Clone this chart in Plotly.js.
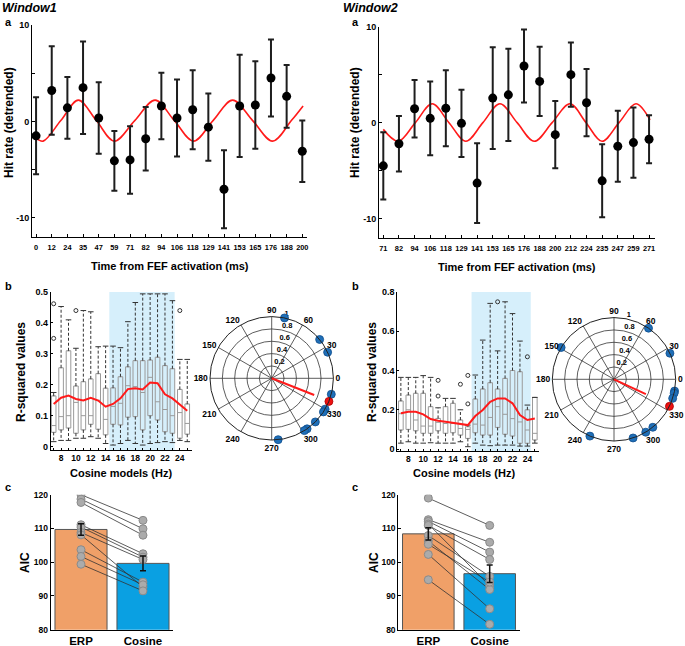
<!DOCTYPE html>
<html><head><meta charset="utf-8">
<script src="https://cdn.plot.ly/plotly-3.0.1.min.js"></script>
<style>body{margin:0;background:#fff}#chart{width:685px;height:646px}</style>
</head><body><div id="chart"></div>
<script>
// ---------- Panel a data ----------
const timeLabels1 = ['0','12','24','35','47','59','71','82','94','106','118','129','141','153','165','176','188','200'];
const hitMean1 = [-1.5,3.2,1.4,3.5,0.35,-4.1,-4.0,-1.8,1.6,0.35,1.2,-0.6,-7.05,1.6,1.7,4.5,2.6,-3.1];
const hitErr1  = [4.0,4.6,3.2,4.8,3.7,3.1,3.5,3.3,3.45,4.0,4.1,3.5,4.05,5.3,4.55,4.0,3.25,3.2];
const fitX1 = [0,0.45,1.58,2.7,3.85,5.0,6.3,7.6,8.83,10.05,11.3,12.55,13.83,15.1,16.3,17.05];
const fitY1 = [-1.75,-2.05,0.08,2.2,0.08,-2.05,0.08,2.2,0.08,-2.05,0.08,2.2,0.08,-2.05,0.08,1.6];

const timeLabels2 = ['71','82','94','106','118','129','141','153','165','176','188','200','212','224','235','247','259','271'];
const hitMean2 = [-4.5,-2.2,1.45,0.45,1.5,-0.07,-6.3,2.56,2.9,5.9,4.3,-1.25,5.0,2.08,-6.06,-2.46,-2.08,-1.73];
const hitErr2  = [3.5,2.9,3.0,3.85,3.95,3.5,4.15,5.3,4.8,3.8,3.6,3.5,3.35,3.5,3.8,3.7,3.65,2.5];
const fitX2 = [0,0.96,2.05,3.13,4.2,5.28,6.37,7.46,8.56,9.66,10.8,11.94,12.97,13.99,15.08,16.16,17.06];
const fitY2 = [-0.7,-1.94,0,1.97,0,-1.94,0,1.97,0,-1.94,0,1.97,0,-1.94,0,1.97,0.3];

// ---------- Panel b data ----------
const hz = [7,8,9,10,11,12,13,14,15,16,17,18,19,20,21,22,23,24,25];
const hzLabels = ['','8','','10','','12','','14','','16','','18','','20','','22','','24',''];
const q1W1  = [0.046,0.054,0.06,0.043,0.054,0.072,0.056,0.038,0.072,0.07,0.095,0.097,0.054,0.10,0.086,0.048,0.043,0.027,0.04];
const medW1 = [0.068,0.097,0.10,0.143,0.10,0.10,0.15,0.088,0.13,0.14,0.197,0.194,0.175,0.224,0.145,0.12,0.10,0.11,0.075];
const q3W1  = [0.164,0.255,0.31,0.196,0.21,0.219,0.236,0.189,0.19,0.226,0.258,0.278,0.278,0.28,0.289,0.262,0.252,0.185,0.138];
const hiW1  = [0.175,0.453,0.41,0.318,0.44,0.436,0.323,0.325,0.325,0.32,0.404,0.466,0.494,0.494,0.494,0.494,0.472,0.282,0.282];
const loW1  = [0.016,0.02,0.02,0.027,0.027,0.032,0.027,0.01,0.005,0.01,0.02,0.01,0.005,0.01,0.013,0.016,0.013,0.02,0.016];
const outXW1 = [7,7,10,24];
const outYW1 = [0.462,0.35,0.44,0.44];
const meanW1 = [0.138,0.158,0.165,0.154,0.149,0.158,0.149,0.129,0.138,0.156,0.186,0.189,0.185,0.207,0.205,0.169,0.156,0.135,0.116];
const sigBand1 = [14.5,23.3];

const q1W2  = [0.097,0.10,0.093,0.08,0.08,0.093,0.08,0.083,0.071,0.054,0.083,0.071,0.071,0.11,0.075,0.066,0.029,0.029,0.046];
const medW2 = [0.18,0.2,0.148,0.117,0.117,0.136,0.13,0.13,0.105,0.1,0.127,0.122,0.161,0.216,0.177,0.155,0.138,0.097,0.08];
const q3W2  = [0.245,0.275,0.284,0.284,0.216,0.156,0.216,0.233,0.148,0.114,0.255,0.306,0.338,0.306,0.36,0.4,0.394,0.2,0.263];
const hiW2  = [0.365,0.365,0.365,0.374,0.365,0.21,0.258,0.258,0.2,0.122,0.377,0.555,0.742,0.5,0.75,0.69,0.55,0.224,0.263];
const loW2  = [0.03,0.037,0.03,0.03,0.032,0.03,0.03,0.03,0.037,0.012,0.03,0.02,0.017,0.02,0.02,0.02,0.015,0.015,0.03];
const outXW2 = [12,12,15,16,16,20,24];
const outYW2 = [0.35,0.27,0.33,0.375,0.23,0.75,0.47];
const meanW2 = [0.182,0.19,0.19,0.177,0.153,0.144,0.139,0.134,0.127,0.122,0.168,0.199,0.241,0.258,0.258,0.233,0.173,0.148,0.156];
const sigBand2 = [16.5,24.45];

// polar
const radTicks = [0.2,0.4,0.6,0.8,1];
const radLabels = ['0.2','0.4','0.6','0.8','1'];
const angTicks = [0,30,60,90,120,150,180,210,240,270,300,330];
const phaseBlue1 = [78,39,25,-15,-30,-33,-45,-55,-58,-84];
const phaseRed1 = -22;
const vecAngle1 = -21.5, vecLen1 = 0.74;
const phaseBlue2 = [56,149,25,-11,-13,-18,-51,-59,-72,-113];
const phaseRed2 = -26;
const vecAngle2 = -25, vecLen2 = 0.57;

// ---------- Panel c data ----------
const models = ['ERP','Cosine'];
const aicBar1 = [109.7,99.65];
const aicErr1 = [1.7,2.2];
const aicErp1 = [120.0,118.7,117.7,111.1,110.4,108.8,108.1,103.7,101.7,99.4];
const aicCos1 = [112.4,109.9,108.0,102.5,101.5,100.8,92.6,94.1,93.3,91.5];
const aicBar2 = [108.4,96.6];
const aicErr2 = [1.8,2.6];
const aicErp2 = [119.0,112.6,112.1,111.3,110.9,107.9,106.3,105.3,102.3,94.8];
const aicCos2 = [110.9,105.9,103.0,93.0,100.8,95.8,91.9,94.1,86.2,81.6];

// ---------- helpers ----------
const FONT = '"Liberation Sans", Arial, sans-serif';
const W = 685, H = 646;
const px = v => v / W, py = v => 1 - v / H;
const idx = arr => arr.map((_, i) => i);
const tf = s => ({family:FONT, size:s, color:'#000', weight:'bold'});

function whisk(xs, q1, q3, lo, hi) {
  const x = [], y = [];
  xs.forEach((v, i) => { x.push(v, v, null, v, v, null); y.push(q3[i], hi[i], null, q1[i], lo[i], null); });
  return {x, y};
}
function pairs(a, b) {
  const x = [], y = [];
  a.forEach((v, i) => { x.push(0, 1, null); y.push(v, b[i], null); });
  return {x, y};
}

const traces = [];
function panelA(xa, ya, labels, mean, err, fx, fy) {
  traces.push({type:'scatter', mode:'lines', x:fx, y:fy, xaxis:xa, yaxis:ya, line:{color:'#ff1a1a', width:1.6, shape:'spline', smoothing:1}, hoverinfo:'skip'});
  traces.push({type:'scatter', mode:'markers', x:idx(labels), y:mean, xaxis:xa, yaxis:ya,
    marker:{color:'#000', size:9},
    error_y:{type:'data', array:err, visible:true, color:'#1e1e1e', thickness:2, width:3}});
}
panelA('x','y',timeLabels1,hitMean1,hitErr1,fitX1,fitY1);
panelA('x2','y2',timeLabels2,hitMean2,hitErr2,fitX2,fitY2);

function panelB(xa, ya, q1, med, q3, lo, hi, ox, oy, mean) {
  const w = whisk(hz, q1, q3, lo, hi);
  traces.push({type:'scatter', mode:'lines', x:w.x, y:w.y, xaxis:xa, yaxis:ya, line:{color:'#333', width:1, dash:'3px,2px'}, hoverinfo:'skip'});
  traces.push({type:'scatter', mode:'markers', x:hz.concat(hz), y:hi.concat(lo), xaxis:xa, yaxis:ya,
    marker:{symbol:'line-ew', size:4, line:{color:'#333', width:1}}, hoverinfo:'skip'});
  traces.push({type:'box', x:hz, q1:q1, median:med, q3:q3, lowerfence:q1, upperfence:q3, xaxis:xa, yaxis:ya,
    width:0.62, boxpoints:false, fillcolor:'rgba(0,0,0,0)', line:{color:'#9a9a9a', width:1}});
  traces.push({type:'scatter', mode:'markers', x:ox, y:oy, xaxis:xa, yaxis:ya,
    marker:{symbol:'circle-open', size:4, color:'#333', line:{width:1}}});
  traces.push({type:'scatter', mode:'lines', x:hz, y:mean, xaxis:xa, yaxis:ya, line:{color:'#ff1a1a', width:2}});
}
panelB('x3','y3',q1W1,medW1,q3W1,loW1,hiW1,outXW1,outYW1,meanW1);
panelB('x4','y4',q1W2,medW2,q3W2,loW2,hiW2,outXW2,outYW2,meanW2);

function panelPolar(sub, blue, red, vAng, vLen) {
  traces.push({type:'scatterpolar', subplot:sub, mode:'text', r:radTicks, theta:radTicks.map(()=>78), text:radLabels,
    textposition:'top right', textfont:tf(7.5), cliponaxis:false, hoverinfo:'skip'});
  traces.push({type:'scatterpolar', subplot:sub, mode:'lines', r:[0,vLen], theta:[vAng,vAng], line:{color:'#ff1a1a', width:2}});
  traces.push({type:'scatterpolar', subplot:sub, mode:'markers', r:blue.map(()=>1), theta:blue, cliponaxis:false,
    marker:{color:'#1f6fb8', size:8, line:{color:'#0f4d8c', width:0.8}}});
  traces.push({type:'scatterpolar', subplot:sub, mode:'markers', r:[1], theta:[red], cliponaxis:false,
    marker:{color:'#ee1111', size:8, line:{color:'#a00', width:0.8}}});
}
panelPolar('polar', phaseBlue1, phaseRed1, vecAngle1, vecLen1);
panelPolar('polar2', phaseBlue2, phaseRed2, vecAngle2, vecLen2);

function panelC(xa, ya, bar, err, erp, cos) {
  traces.push({type:'bar', x:[0,1], y:bar, xaxis:xa, yaxis:ya, width:0.84,
    marker:{color:['#f0a068','#0aa0e2'], line:{color:'#555', width:1}}});
  const p = pairs(erp, cos);
  traces.push({type:'scatter', mode:'lines', x:p.x, y:p.y, xaxis:xa, yaxis:ya, line:{color:'#333', width:0.8}, hoverinfo:'skip'});
  traces.push({type:'scatter', mode:'markers', x:erp.map(()=>0).concat(cos.map(()=>1)), y:erp.concat(cos), xaxis:xa, yaxis:ya,
    marker:{color:'#ababab', size:8, line:{color:'#8a8a8a', width:1}}});
  traces.push({type:'scatter', mode:'markers', x:[0,1], y:bar, xaxis:xa, yaxis:ya, marker:{size:1, color:'rgba(0,0,0,0)'},
    error_y:{type:'data', array:err, visible:true, color:'#111', thickness:1.5, width:3}});
}
panelC('x5','y5',aicBar1,aicErr1,aicErp1,aicCos1);
panelC('x6','y6',aicBar2,aicErr2,aicErp2,aicCos2);

// ---------- layout ----------
const baseAx = {showline:true, linecolor:'#000', linewidth:1, showgrid:false, zeroline:false, ticks:'inside', ticklen:3, tickcolor:'#000', tickfont:tf(9), tickangle:0, fixedrange:true};
const ax = o => Object.assign({}, baseAx, o);

const yTicksA = {tickvals:[-10,-5,0,5,10], ticktext:['-10','','0','','10']};
const cTop = 494.7, cBot = 629.7;
const layout = {
  width:W, height:H, autosize:false, margin:{l:0,r:0,t:0,b:0}, showlegend:false,
  paper_bgcolor:'#fff', plot_bgcolor:'rgba(0,0,0,0)', font:{family:FONT, color:'#000'},
  xaxis: ax({domain:[px(32),px(307)], range:[-0.26,17.3], anchor:'y', tickvals:idx(timeLabels1), ticktext:timeLabels1, tickfont:tf(7.4), ticklabelstandoff:3}),
  yaxis: ax(Object.assign({domain:[py(237),py(25)], range:[-12,10], anchor:'x'}, yTicksA)),
  xaxis2: ax({domain:[px(379),px(655)], range:[-0.275,17.38], anchor:'y2', tickvals:idx(timeLabels2), ticktext:timeLabels2, tickfont:tf(7.4), ticklabelstandoff:3}),
  yaxis2: ax(Object.assign({domain:[py(238.3),py(26.7)], range:[-12.05,10], anchor:'x2'}, yTicksA)),
  xaxis3: ax({domain:[px(50.7),px(191.7)], range:[6.6,25.6], anchor:'y3', tickvals:hz, ticktext:hzLabels, tickfont:tf(8.5), ticklen:2}),
  yaxis3: ax({domain:[py(450),py(292)], range:[-0.011,0.5], anchor:'x3', tickvals:[0,0.1,0.2,0.3,0.4,0.5], ticktext:['0','0.1','0.2','0.3','0.4','0.5'], ticklen:2}),
  xaxis4: ax({domain:[px(397.3),px(539.3)], range:[6.52,25.6], anchor:'y4', tickvals:hz, ticktext:hzLabels, tickfont:tf(8.5), ticklen:2}),
  yaxis4: ax({domain:[py(451),py(292)], range:[-0.01,0.8], anchor:'x4', tickvals:[0,0.2,0.4,0.6,0.8], ticktext:['0','0.2','0.4','0.6','0.8'], ticklen:2}),
  xaxis5: ax({domain:[px(50.7),px(173.3)], range:[-0.489,1.489], anchor:'y5', tickvals:[0,1], ticktext:models, ticks:'', tickfont:tf(11.5)}),
  yaxis5: ax({domain:[py(cBot),py(cTop)], range:[80,120], anchor:'x5', tickvals:[80,90,100,110,120], tickfont:tf(8.5)}),
  xaxis6: ax({domain:[px(398.3),px(519.7)], range:[-0.489,1.489], anchor:'y6', tickvals:[0,1], ticktext:models, ticks:'', tickfont:tf(11.5)}),
  yaxis6: ax({domain:[py(cBot),py(cTop)], range:[80,120], anchor:'x6', tickvals:[80,90,100,110,120], tickfont:tf(8.5)}),
  bargap:0,
  shapes:[
    {type:'rect', xref:'x3', yref:'y3 domain', x0:sigBand1[0], x1:sigBand1[1], y0:0, y1:1, fillcolor:'#d6effb', line:{width:0}, layer:'below'},
    {type:'rect', xref:'x4', yref:'y4 domain', x0:sigBand2[0], x1:sigBand2[1], y0:0, y1:1, fillcolor:'#d6effb', line:{width:0}, layer:'below'}
  ],
  annotations:[]
};
function polarCfg(cx, cy, r) {
  return {
    domain:{x:[px(cx-r),px(cx+r)], y:[py(cy+r),py(cy-r)]}, bgcolor:'rgba(0,0,0,0)',
    angularaxis:{tickvals:angTicks, ticktext:angTicks.map(String),
      direction:'counterclockwise', rotation:0, showline:true, linecolor:'#222', linewidth:1, gridcolor:'#333', gridwidth:0.8, ticks:'', tickfont:tf(8.5)},
    radialaxis:{range:[0,1], tickvals:radTicks, showticklabels:false, angle:80, showline:false,
      gridcolor:'#333', gridwidth:0.8, ticks:''}
  };
}
layout.polar = polarCfg(271.7, 378.3, 61.7);
layout.polar2 = polarCfg(614, 379.3, 61.7);

function ann(text, x, y, size, o) {
  return Object.assign({text, x:px(x), y:py(y), xref:'paper', yref:'paper', showarrow:false,
    font:{family:FONT, size, color:'#000'}, xanchor:'center', yanchor:'middle'}, o || {});
}
layout.annotations.push(
  ann('<b><i>Window1</i></b>', 0, 8, 12.5, {xanchor:'left'}),
  ann('<b><i>Window2</i></b>', 341, 8, 12.5, {xanchor:'left'}),
  ann('<b>a</b>', 3, 22, 11, {xanchor:'left'}),
  ann('<b>a</b>', 350, 22, 11, {xanchor:'left'}),
  ann('<b>b</b>', 3, 286, 11, {xanchor:'left'}),
  ann('<b>b</b>', 350, 286, 11, {xanchor:'left'}),
  ann('<b>c</b>', 3, 487, 11, {xanchor:'left'}),
  ann('<b>c</b>', 350, 487, 11, {xanchor:'left'}),
  ann('<b>Hit rate (detrended)</b>', 9, 123, 12, {textangle:-90}),
  ann('<b>Hit rate (detrended)</b>', 355, 123, 12, {textangle:-90}),
  ann('<b>Time from FEF activation (ms)</b>', 170, 266, 11),
  ann('<b>Time from FEF activation (ms)</b>', 517, 267, 11),
  ann('<b>R-squared values</b>', 21, 372, 12, {textangle:-90}),
  ann('<b>R-squared values</b>', 372, 372, 12, {textangle:-90}),
  ann('<b>Cosine models (Hz)</b>', 121, 473, 11),
  ann('<b>Cosine models (Hz)</b>', 464, 473, 11),
  ann('<b>AIC</b>', 25, 562, 12, {textangle:-90}),
  ann('<b>AIC</b>', 374, 562, 12, {textangle:-90})
);

Plotly.newPlot('chart', traces, layout, {staticPlot:true, displayModeBar:false});
</script>
</body></html>
